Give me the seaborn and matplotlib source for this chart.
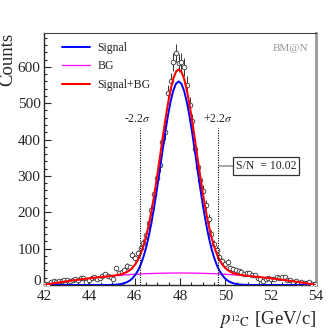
import numpy as np
import pandas as pd
import seaborn as sns
import matplotlib
matplotlib.use("Agg")
import matplotlib.pyplot as plt
from matplotlib.ticker import MultipleLocator, FuncFormatter
from matplotlib.transforms import ScaledTranslation

# bin centres [GeV/c], bin width 0.12
p_centres = [42.06 + 0.12 * i for i in range(100)]

counts = [2, 4, 7, 11, 9, 12, 10, 13, 14, 11,
          15, 17, 13, 18, 20, 9, 14, 18, 21, 16,
          19, 24, 29, 25, 23, 17, 46, 34, 37, 41,
          52, 49, 83, 74, 88, 101, 115, 138, 170, 205,
          250, 295, 330, 392, 420, 528, 560, 613, 638, 610,
          612, 600, 550, 496, 450, 375, 325, 290, 258, 220,
          182, 140, 112, 97, 78, 66, 58, 64, 47, 44,
          40, 38, 37, 30, 33, 32, 27, 28, 20, 16,
          12, 17, 18, 16, 16, 21, 19, 22, 23, 15,
          14, 9, 10, 6, 7, 6, 5, 7, 3, 2]

# fitted signal and background, sampled at the bin centres
signal = [0, 0, 0, 0, 0, 0, 0, 0, 0, 0,
          0, 0, 0, 0, 0, 0, 0, 0, 0, 0,
          0, 0, 0, 0, 0.3, 0.6, 1.1, 1.8, 3.0, 4.9,
          7.8, 12.1, 18.3, 27.1, 39.1, 55.1, 75.8, 101.8, 133.6, 171.5,
          214.7, 262.5, 313.5, 365.7, 416.6, 463.4, 503.4, 534.1, 553.4, 560.0,
          553.4, 534.1, 503.4, 463.4, 416.6, 365.7, 313.5, 262.5, 214.7, 171.5,
          133.6, 101.8, 75.8, 55.1, 39.1, 27.1, 18.3, 12.1, 7.8, 4.9,
          3.0, 1.8, 1.1, 0.6, 0.3, 0, 0, 0, 0, 0,
          0, 0, 0, 0, 0, 0, 0, 0, 0, 0,
          0, 0, 0, 0, 0, 0, 0, 0, 0, 0]
background = [0.7, 2.0, 3.2, 4.5, 5.7, 6.9, 8.0, 9.2, 10.3, 11.3,
              12.4, 13.4, 14.4, 15.4, 16.4, 17.3, 18.2, 19.1, 19.9, 20.7,
              21.5, 22.3, 23.0, 23.7, 24.4, 25.1, 25.7, 26.3, 26.9, 27.5,
              28.0, 28.5, 29.0, 29.4, 29.8, 30.2, 30.6, 30.9, 31.3, 31.5,
              31.8, 32.0, 32.3, 32.4, 32.6, 32.7, 32.8, 32.9, 33.0, 33.0,
              33.0, 33.0, 32.9, 32.8, 32.7, 32.6, 32.4, 32.3, 32.0, 31.8,
              31.5, 31.3, 30.9, 30.6, 30.2, 29.8, 29.4, 29.0, 28.5, 28.0,
              27.5, 26.9, 26.3, 25.7, 25.1, 24.4, 23.7, 23.0, 22.3, 21.5,
              20.7, 19.9, 19.1, 18.2, 17.3, 16.4, 15.4, 14.4, 13.4, 12.4,
              11.3, 10.3, 9.2, 8.0, 6.9, 5.7, 4.5, 3.2, 2.0, 0.7]

sigma_lo = 46.22
sigma_hi = 49.66
sn_ratio = "10.02"

df = pd.DataFrame({"p": p_centres, "counts": counts,
                   "signal": signal, "bg": background})
df["total"] = df["signal"] + df["bg"]
df["err"] = np.sqrt(df["counts"])

sns.set_style("ticks")
plt.rcParams["font.family"] = ["Liberation Serif", "DejaVu Serif"]
plt.rcParams["mathtext.fontset"] = "stix"

fig = plt.figure(figsize=(3.32, 3.32), dpi=100)
ax = fig.add_axes([0.1325, 0.1416, 0.8195, 0.759])

# data points with sqrt(N) errors
ax.vlines(df["p"], df["counts"] - df["err"], df["counts"] + df["err"],
          color="#333333", lw=0.7, zorder=2)
sns.scatterplot(data=df, x="p", y="counts", ax=ax, marker="o", s=11,
                facecolor="white", edgecolor="#333333", linewidth=0.6,
                zorder=3, legend=False)

# fit curves
sns.lineplot(data=df, x="p", y="bg", ax=ax, color="#ff00ff", lw=0.9,
             label="BG", estimator=None, sort=False, zorder=4)
sns.lineplot(data=df, x="p", y="signal", ax=ax, color="#0000ff", lw=1.4,
             label="Signal", estimator=None, sort=False, zorder=5)
sns.lineplot(data=df, x="p", y="total", ax=ax, color="#ff0000", lw=1.5,
             label="Signal+BG", estimator=None, sort=False, zorder=6)

# +-2.2 sigma window
ax.vlines([sigma_lo, sigma_hi], 0, 432, color="black", lw=0.8,
          linestyles=(0, (1, 1.2)), zorder=7)
ax.text(sigma_lo - 0.12, 440, r"-2.2$\sigma$", ha="center", va="bottom",
        fontsize=8.5)
ax.text(sigma_hi, 440, r"+2.2$\sigma$", ha="center", va="bottom",
        fontsize=8.5)
ax.plot([sigma_hi + 0.05, 50.45], [328, 328], color="#999999", lw=1.2,
        zorder=7)
ax.text(50.45, 328, "S/N  = " + sn_ratio, ha="left", va="center",
        fontsize=8.5, zorder=8,
        bbox=dict(boxstyle="square,pad=0.25", fc="white", ec="#333333",
                  lw=0.9))

ax.text(0.97, 0.94, "BM@N", transform=ax.transAxes, ha="right",
        va="center", fontsize=8, color="#999999")

handles, labels = ax.get_legend_handles_labels()
order = [labels.index(n) for n in ["Signal", "BG", "Signal+BG"]]
ax.legend([handles[i] for i in order], [labels[i] for i in order],
          loc="upper left", bbox_to_anchor=(0.066, 0.965), frameon=False,
          fontsize=8.5, handlelength=2.4, handletextpad=0.6,
          labelspacing=0.55, borderpad=0, borderaxespad=0)

ax.xaxis.set_major_locator(MultipleLocator(2))
ax.xaxis.set_minor_locator(MultipleLocator(0.5))
ax.yaxis.set_major_locator(MultipleLocator(100))
ax.yaxis.set_minor_locator(MultipleLocator(20))
# the "0" is drawn by hand, slightly raised, so it clears the "42"
ax.yaxis.set_major_formatter(FuncFormatter(lambda v, pos: "" if v == 0 else f"{v:.0f}"))
ax.text(0, 0, "0", ha="right", va="center", fontsize=11,
        transform=ax.get_yaxis_transform()
        + ScaledTranslation(-2.5 / 72, 2.8 / 72, fig.dpi_scale_trans))
ax.tick_params(which="both", direction="in", labelsize=11, width=0.8)
ax.tick_params(axis="y", pad=2.5)
ax.tick_params(axis="x", pad=3.5)
ax.tick_params(which="major", length=5)
ax.tick_params(which="minor", length=2.5)

ax.set_xlabel(r"$p_{^{12}\mathrm{C}}$ [GeV/c]", fontsize=13.5, loc="right")
ax.xaxis.set_label_coords(1.0, -0.095)
ax.set_ylabel("Counts", fontsize=13.5, loc="top")
ax.yaxis.set_label_coords(-0.103, 1.0)

for s in ["left", "bottom"]:
    ax.spines[s].set_linewidth(1.0)
ax.spines["top"].set_color("#444444")
ax.spines["top"].set_linewidth(0.8)
ax.spines["right"].set_color("#999999")
ax.spines["right"].set_linewidth(2.0)

ax.set_xlim(42, 54)
ax.set_ylim(0, 693)

fig.savefig("out.png", dpi=100)
